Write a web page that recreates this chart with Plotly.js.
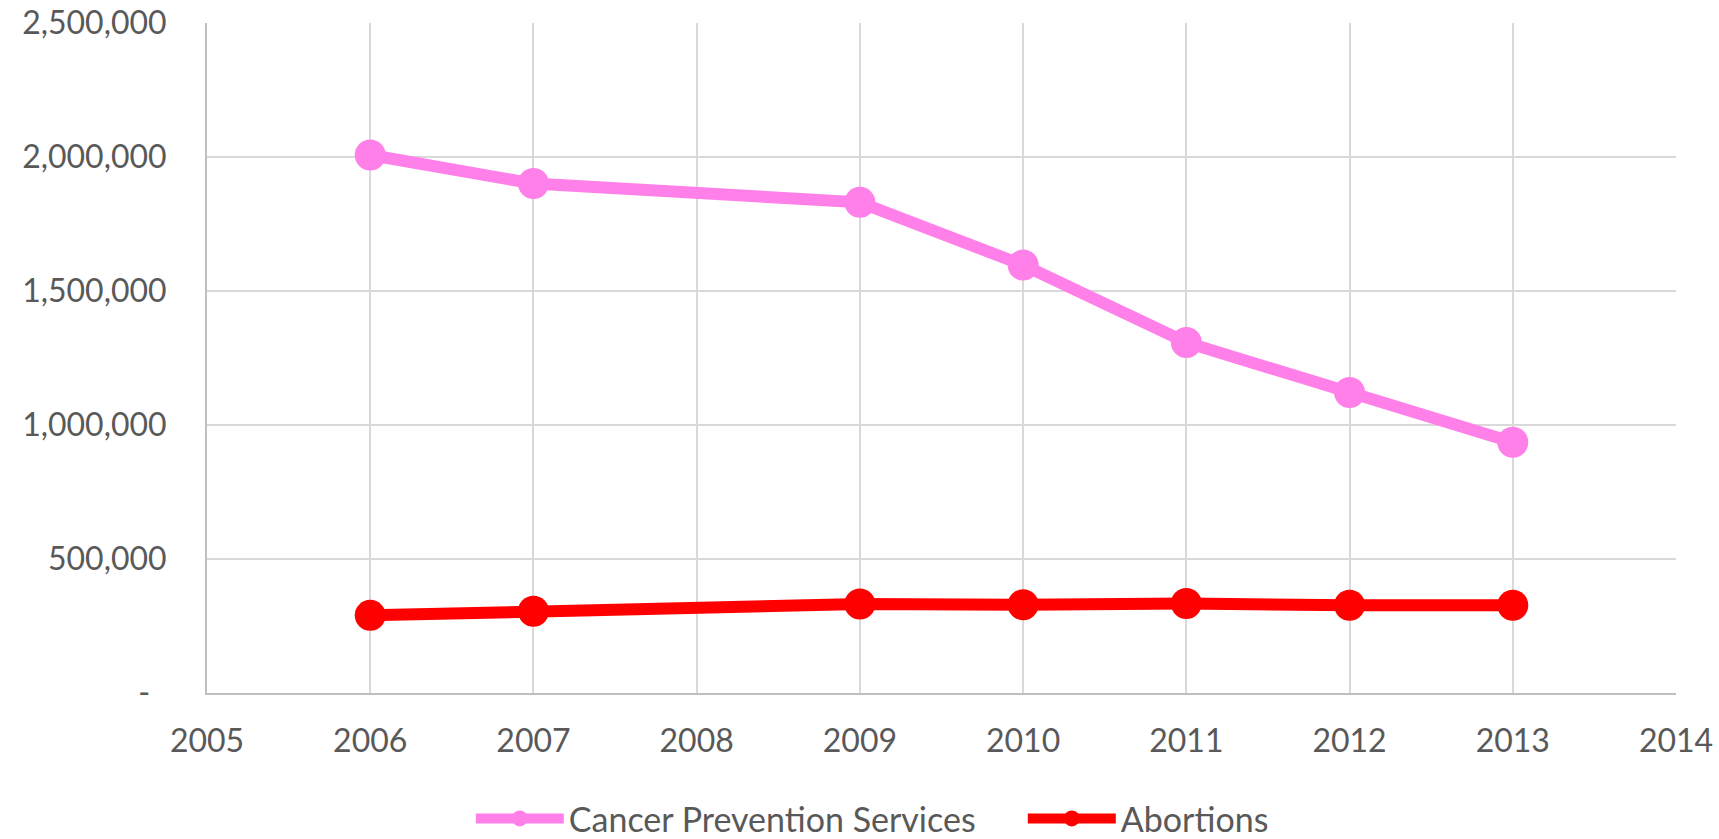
<!DOCTYPE html>
<html>
<head>
<meta charset="utf-8">
<script src="https://cdn.plot.ly/plotly-3.0.1.min.js"></script>
<style>
  html, body { margin: 0; padding: 0; background: #fff; }
  #chart { width: 1719px; height: 839px; }
</style>
</head>
<body>
<div id="chart"></div>
<script>
// ── Data ────────────────────────────────────────────────────────────────────
const years = [2006, 2007, 2009, 2010, 2011, 2012, 2013];
const cancerPrevention = [2007371, 1900850, 1830811, 1596741, 1307939, 1121580, 935573];
const abortions = [289750, 305310, 331796, 329445, 333964, 327166, 327653];

const yTickVals = [0, 500000, 1000000, 1500000, 2000000, 2500000];
const yTickText = ["-\u00a0\u00a0", "500,000", "1,000,000", "1,500,000", "2,000,000", "2,500,000"];

const FONT = "Lato, 'Open Sans', sans-serif";
const GREY_TXT = "#595959";
const GRID = "#D9D9D9";

const traces = [
  {
    x: years, y: cancerPrevention, name: "Cancer Prevention Services",
    type: "scatter", mode: "lines+markers",
    line: { color: "#FF80E8", width: 12 },
    marker: { color: "#FF80E8", size: 31 },
  },
  {
    x: years, y: abortions, name: "Abortions",
    type: "scatter", mode: "lines+markers",
    line: { color: "#FF0000", width: 12 },
    marker: { color: "#FF0000", size: 31 },
  },
];

const layout = {
  width: 1719, height: 839,
  margin: { l: 207, r: 43, t: 23, b: 146 },
  paper_bgcolor: "#fff", plot_bgcolor: "#fff",
  font: { family: FONT, color: GREY_TXT, size: 32 },
  showlegend: true,
  legend: {
    orientation: "h",
    xref: "container", yref: "container",
    x: 0.595, xanchor: "center",
    y: 0.024, yanchor: "middle",
    itemwidth: 88,
    entrywidth: 449,
    font: { family: FONT, color: GREY_TXT, size: 34 },
    traceorder: "normal",
  },
  xaxis: {
    range: [2005, 2014], dtick: 1, tick0: 2005,
    showgrid: true, gridcolor: GRID, gridwidth: 2,
    showline: true, linecolor: "#BFBFBF", linewidth: 2,
    zeroline: false, ticks: "",
    ticklabelstandoff: 19,
    tickfont: { family: FONT, color: GREY_TXT, size: 32 },
  },
  yaxis: {
    range: [0, 2500000],
    tickvals: yTickVals, ticktext: yTickText,
    showgrid: true, gridcolor: GRID, gridwidth: 2,
    showline: true, linecolor: "#BFBFBF", linewidth: 2,
    zeroline: false, ticks: "",
    ticklabelstandoff: 32,
    tickfont: { family: FONT, color: GREY_TXT, size: 32 },
  },
};

Plotly.newPlot("chart", traces, layout, { displayModeBar: false, staticPlot: true });
</script>
</body>
</html>
